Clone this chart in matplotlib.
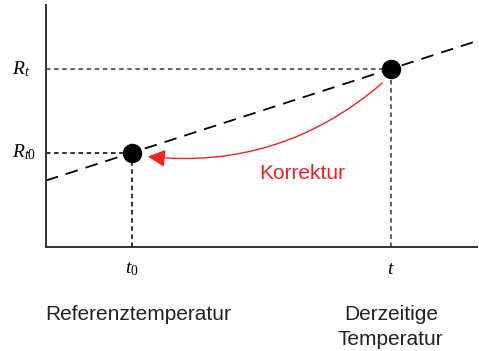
import matplotlib
matplotlib.use("Agg")
import matplotlib.pyplot as plt
from matplotlib.patches import FancyArrowPatch
from matplotlib.transforms import blended_transform_factory, offset_copy

plt.rcParams["mathtext.fontset"] = "custom"
plt.rcParams["mathtext.rm"] = "Liberation Serif"
plt.rcParams["mathtext.it"] = "Liberation Serif:italic"

# Temperatures (reference and current) and the matching resistances
temps = [2.0, 8.0]
resist = [3.9, 7.36]
t_labels = [r"$t_{0}$", r"$t$"]
r_labels = [r"$R_{t0}$", r"$R_{t}$"]
temp_names = ["Referenztemperatur", "Derzeitige\nTemperatur"]
corr_label = "Korrektur"

slope = (resist[1] - resist[0]) / (temps[1] - temps[0])
icpt = resist[0] - slope * temps[0]

W, H = 479, 351
DPI = 100
fig = plt.figure(figsize=(W / DPI, H / DPI), dpi=DPI)
ax = fig.add_axes([46 / W, (H - 247) / H, 431 / W, 242 / H])
ax.set_xlim(0, 10)
ax.set_ylim(0, 10)

for s in ["top", "right"]:
    ax.spines[s].set_visible(False)
for s in ["left", "bottom"]:
    ax.spines[s].set_color("#333333")
    ax.spines[s].set_linewidth(1.4)
ax.set_xticks([])
ax.set_yticks([])

# characteristic line R(t)
xs = [0, 10]
ax.plot(xs, [icpt + slope * x for x in xs], color="black", lw=1.3,
        dashes=(7, 4.5), zorder=2)

# guide lines to the axes
guide_cols = ["#222222", "#555555"]
for t, r, c in zip(temps, resist, guide_cols):
    ax.plot([0, t], [r, r], color=c, lw=1.3, dashes=(2.5, 2), zorder=1)
    ax.plot([t, t], [0, r], color=c, lw=1.3, dashes=(2.5, 2), zorder=1)

ax.plot(temps, resist, "o", color="black", ms=13, zorder=3)

# label placement: data position along one axis, pixel offset along the other
x_axis_tr = blended_transform_factory(ax.transData, ax.transAxes)
y_axis_tr = blended_transform_factory(ax.transAxes, ax.transData)


def shifted(tr, dx, dy):
    return offset_copy(tr, fig, x=dx, y=dy, units="dots")


for t, lab in zip(temps, t_labels):
    ax.text(t, 0, lab, ha="center", va="center", fontsize=14,
            transform=shifted(x_axis_tr, 0, -21))
for r, lab in zip(resist, r_labels):
    ax.text(0, r, lab, ha="left", va="center", fontsize=14,
            transform=shifted(y_axis_tr, -34, 0))

name_dx = [6, 0]
for t, name, dx in zip(temps, temp_names, name_dx):
    ax.text(t, 0, name, ha="center", va="top", fontsize=15,
            family="Liberation Sans", color="#222222", linespacing=1.42,
            transform=shifted(x_axis_tr, dx, -58))

# correction arrow from current back to reference value
red = "#ee2228"
arrow = FancyArrowPatch((7.85, 6.85), (2.3, 3.75),
                        connectionstyle="arc3,rad=-0.22",
                        arrowstyle="-|>,head_length=7,head_width=3.5",
                        color=red, lw=1.0, zorder=4, mutation_scale=1.5)
ax.add_patch(arrow)
ax.text(5.94, 3.05, corr_label, ha="center", va="center", fontsize=15,
        family="Liberation Sans", color=red)

fig.savefig("out.png", dpi=DPI)
